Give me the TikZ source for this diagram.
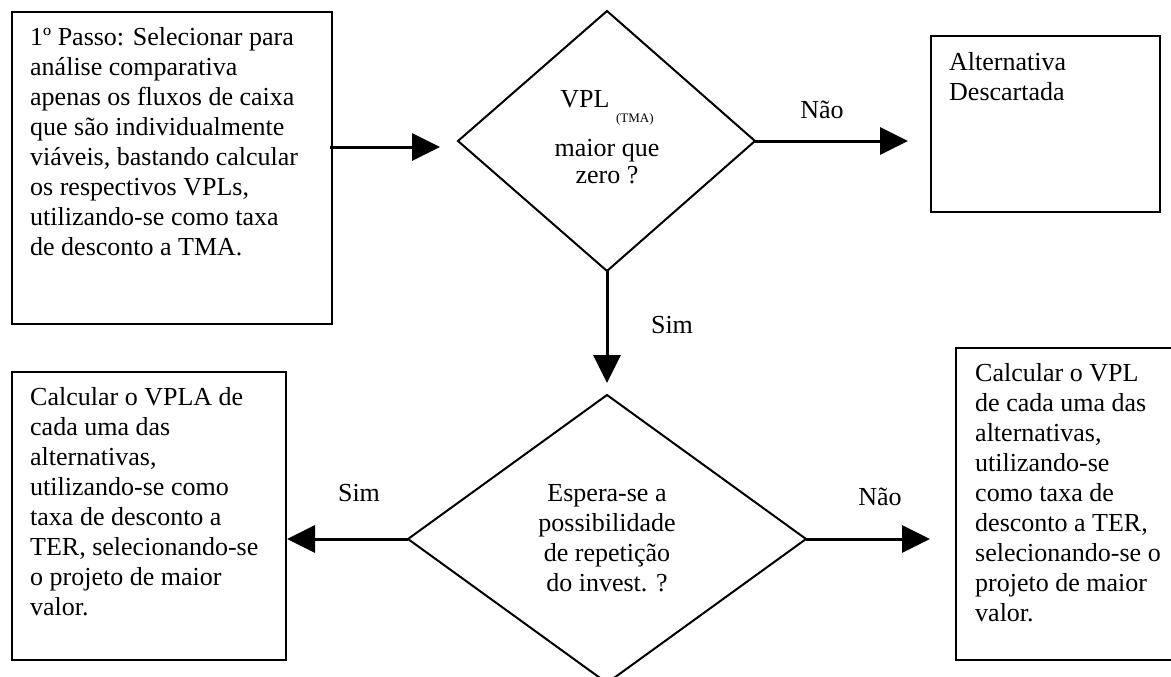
\documentclass[tikz,border=0pt]{standalone}
\usepackage{fontspec}
\setmainfont{Liberation Serif}
\usetikzlibrary{arrows.meta,calc}
\begin{document}
\begin{tikzpicture}[x=1pt,y=-1pt,
  box/.style={draw,line width=2pt,anchor=north west,inner sep=0pt},
  txt/.style={anchor=north west,inner sep=0pt,align=left,font=\fontsize{26}{30}\selectfont},
  ctxt/.style={inner sep=0pt,align=center,font=\fontsize{26}{30}\selectfont},
  lbl/.style={inner sep=0pt,font=\fontsize{26}{30}\selectfont},
  dec/.style={draw,line width=2pt},
  arr/.style={line width=3pt,-{Triangle[length=28pt,width=27pt]}}]
\useasboundingbox (0,0) rectangle (1171,677);
\clip (0,0) rectangle (1171,677);
% boxes
\node[box,minimum width=320pt,minimum height=312pt] (b1) at (11,11) {};
\node[box,minimum width=229pt,minimum height=176pt] (b2) at (930,35) {};
\node[box,minimum width=274pt,minimum height=288pt] (b3) at (11,371) {};
\node[box,minimum width=230pt,minimum height=312pt] (b4) at (955,347) {};
% box texts
\node[txt] (t1) at (30,27) {1º Passo: Selecionar para\\análise comparativa\\apenas os fluxos de caixa\\que são individualmente\\viáveis, bastando calcular\\os respectivos VPLs,\\utilizando-se como taxa\\de desconto a TMA.};
\node[txt] (t2) at (949,52) {Alternativa\\Descartada};
\node[txt] (t3) at (30,387) {Calcular o VPLA de\\cada uma das\\alternativas,\\utilizando-se como\\taxa de desconto a\\TER, selecionando-se\\o projeto de maior\\valor.};
\node[txt] (t4) at (975,363) {Calcular o VPL\\de cada uma das\\alternativas,\\utilizando-se\\como taxa de\\desconto a TER,\\selecionando-se o\\projeto de maior\\valor.};
% diamonds
\draw[dec] (607,11) coordinate (d1n) -- (755,141) coordinate (d1e) -- (607,271) coordinate (d1s) -- (458,141) coordinate (d1w) -- cycle;
\draw[dec] (607,395) coordinate (d2n) -- (806,539) coordinate (d2e) -- (607,683) coordinate (d2s) -- (408,539) coordinate (d2w) -- cycle;
\node[lbl,anchor=base] (dt1a) at (607,107) {VPL \raisebox{-15pt}{\fontsize{13}{13}\selectfont (TMA)}};
\node[lbl,anchor=base] (dt1b) at (607,156) {maior que};
\node[lbl,anchor=base] (dt1c) at (607,183) {zero ?};
\node[ctxt] (dt2) at (607,538) {Espera-se a\\possibilidade\\de repetição\\do invest. ?};
% connectors
\coordinate (a1s) at (330,147);
\coordinate (a1e) at (440,147);
\draw[arr] (a1s) -- (a1e);
\draw[arr,shorten >=22pt] (d1e) -- (d1e -| b2.west);
\draw[arr,shorten >=12pt] (d1s) -- (d2n);
\draw[arr] (d2w) -- (d2w -| b3.east);
\draw[arr,shorten >=25pt] (d2e) -- (d2e -| b4.west);
% labels
\node[lbl] (n1) at (822,110) {Não};
\node[lbl] (s1) at (672,325) {Sim};
\node[lbl] (s2) at (359,493) {Sim};
\node[lbl] (n2) at (880,497) {Não};
\end{tikzpicture}
\end{document}
